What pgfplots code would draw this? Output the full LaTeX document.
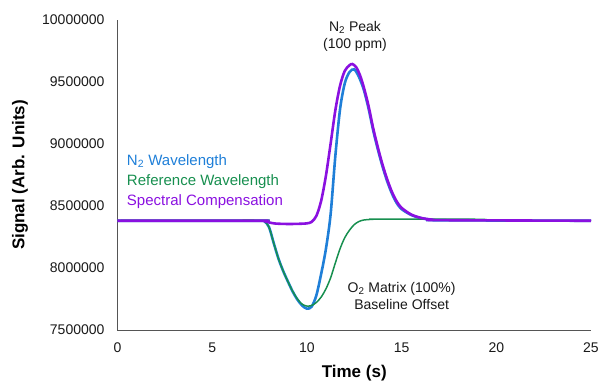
\documentclass[border=0pt]{standalone}
\usepackage{pgfplots}
\pgfplotsset{compat=1.18}
\usepackage{fontspec}
\setmainfont{Liberation Sans}
\usetikzlibrary{calc}
\definecolor{cblue}{HTML}{1F7FD8}
\definecolor{cgreen}{HTML}{178F4F}
\definecolor{cpurple}{HTML}{8A10E0}
\definecolor{axgray}{HTML}{555555}
\begin{document}
\begin{tikzpicture}[x=1pt,y=1pt]
\begin{axis}[
  name=ax,
  at={(0,0)}, anchor=south west,
  scale only axis, width=473.5pt, height=310pt,
  xmin=0, xmax=25, ymin=7500000, ymax=10000000,
  xtick={0,5,10,15,20,25},
  ytick={7500000,8000000,8500000,9000000,9500000,10000000},
  scaled y ticks=false,
  /pgf/number format/fixed,
  /pgf/number format/precision=0,
  /pgf/number format/1000 sep={},
  /pgf/number format/assume math mode=true,
  axis x line=bottom, axis y line=left,
  axis line style={-, axgray, line width=1pt},
  major tick length=0pt,
  tick label style={font=\fontsize{14}{16}\selectfont, text=black!90},
  yticklabel shift=9.5pt,
  xticklabel shift=9pt,
  xlabel={Time (s)},
  ylabel={Signal (Arb. Units)},
  xlabel style={font=\fontsize{17}{20}\selectfont\bfseries, at={(axis description cs:0.5,-0.1387)}, anchor=center},
  ylabel style={font=\fontsize{17}{20}\selectfont\bfseries, at={(axis description cs:-0.2059,0.5)}, anchor=center},
  clip=false,
]
% N2 wavelength
\addplot[cblue, line width=2.6pt, smooth] coordinates {
(0,8381000) (7.5,8381000) (7.75,8378000) (8.0,8330000) (8.25,8200000) (8.5,8075000) (8.75,7975000) (9.0,7890000) (9.25,7810000) (9.5,7745000) (9.75,7697000) (10.0,7672000) (10.25,7688000) (10.5,7780000) (10.75,7950000) (11.0,8150000) (11.25,8430000) (11.5,8900000) (11.75,9280000) (12.0,9490000) (12.25,9580000) (12.5,9602000) (12.75,9540000) (13.0,9440000) (13.25,9290000) (13.5,9110000) (13.75,8955000) (14.0,8815000) (14.25,8695000) (14.5,8597000) (14.75,8522000) (15.0,8475000) (15.5,8428000) (16.0,8403000) (16.5,8390000) (17.0,8385000) (25,8381000)
};
% Reference wavelength
\addplot[cgreen, line width=1.5pt, smooth] coordinates {
(0,8383000) (7.5,8385000) (7.75,8378000) (8.0,8330000) (8.25,8200000) (8.5,8075000) (8.75,7975000) (9.0,7890000) (9.25,7812000) (9.5,7750000) (9.75,7708000) (10.0,7693000) (10.25,7698000) (10.5,7722000) (10.75,7765000) (11.0,7830000) (11.25,7920000) (11.5,8040000) (11.75,8155000) (12.0,8245000) (12.25,8305000) (12.5,8350000) (12.75,8375000) (13.0,8387000) (13.5,8393000) (14.0,8395000) (19.0,8393000) (20.0,8385000) (25,8381000)
};
% Spectral compensation
\addplot[cpurple, line width=2.6pt, smooth] coordinates {
(0,8381000) (7.5,8381000) (7.75,8378000) (8.0,8368000) (8.25,8360000) (8.5,8357000) (9.0,8355000) (9.5,8356000) (10.0,8360000) (10.25,8372000) (10.5,8420000) (10.75,8540000) (11.0,8740000) (11.25,9000000) (11.5,9270000) (11.75,9470000) (12.0,9590000) (12.25,9635000) (12.4,9645000) (12.6,9620000) (12.8,9556000) (13.0,9460000) (13.25,9310000) (13.5,9127000) (13.75,8970000) (14.0,8830000) (14.25,8710000) (14.5,8610000) (14.75,8535000) (15.0,8485000) (15.5,8432000) (16.0,8405000) (16.5,8392000) (17.0,8386000) (25,8381000)
};
\node[align=center, font=\fontsize{14}{17}\selectfont, text=black!90] at (axis cs:12.54,9867000) {N\textsubscript{2} Peak\\(100 ppm)};
\node[align=center, font=\fontsize{14}{17}\selectfont, text=black!90] at (axis cs:15.0,7774000) {O\textsubscript{2} Matrix (100\%)\\Baseline Offset};
\node[align=left, anchor=west, inner sep=0pt, font=\fontsize{15}{20}\selectfont] at (axis cs:0.49,8697500) {\textcolor{cblue}{N\textsubscript{2} Wavelength}\\\textcolor{cgreen}{Reference Wavelength}\\\textcolor{cpurple}{Spectral Compensation}};
\end{axis}
\pgfresetboundingbox
\path[use as bounding box] ($(ax.south west)+(-117.5pt,-56pt)$) rectangle ($(ax.north east)+(9pt,20pt)$);
\end{tikzpicture}
\end{document}
